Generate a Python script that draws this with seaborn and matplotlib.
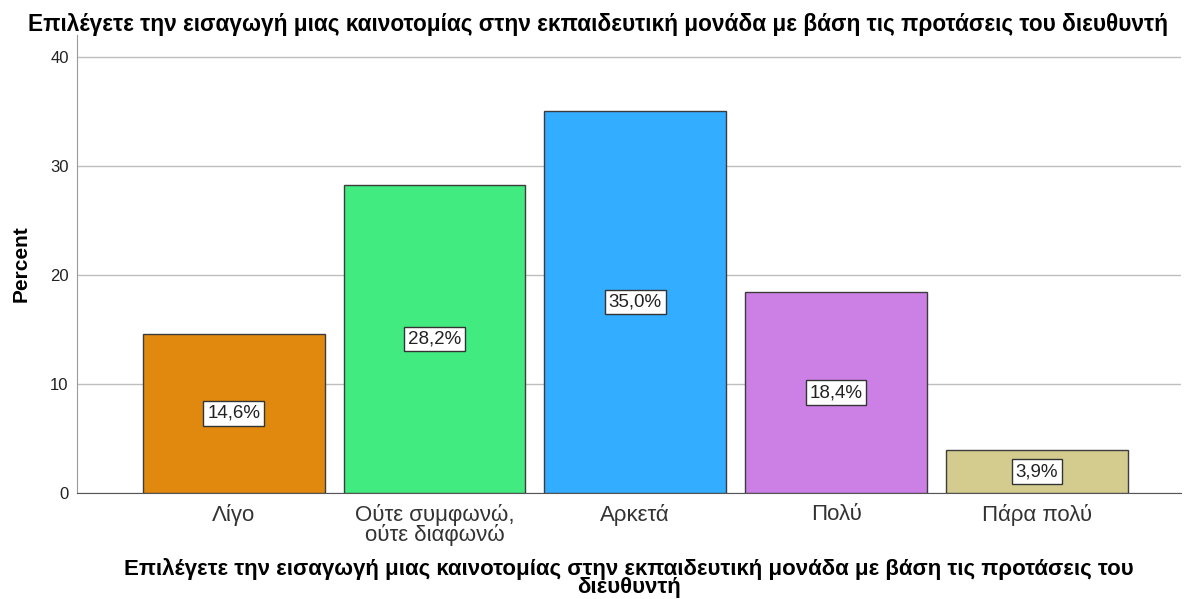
import seaborn as sns
import matplotlib.pyplot as plt
import pandas as pd

# δεδομένα
categories = ["Λίγο", "Ούτε συμφωνώ,\nούτε διαφωνώ", "Αρκετά", "Πολύ", "Πάρα πολύ"]
percent = [14.6, 28.2, 35.0, 18.4, 3.9]
colors = ["#E1880E", "#41EB7F", "#33ADFF", "#CC80E6", "#D3CC8E"]
y_ticks = [0, 10, 20, 30, 40]
title = "Επιλέγετε την εισαγωγή μιας καινοτομίας στην εκπαιδευτική μονάδα με βάση τις προτάσεις του διευθυντή"
xlabel = "Επιλέγετε την εισαγωγή μιας καινοτομίας στην εκπαιδευτική μονάδα με βάση τις προτάσεις του\nδιευθυντή"

df = pd.DataFrame({"cat": categories, "pct": percent})

sns.set_style("white")
plt.rcParams['font.family'] = ['Liberation Sans', 'DejaVu Sans']
plt.rcParams['text.color'] = 'black'
plt.rcParams['axes.labelcolor'] = 'black'

fig, ax = plt.subplots(figsize=(11.85, 5.99), dpi=100)
fig.subplots_adjust(left=0.065, right=0.997, top=0.942, bottom=0.177)

sns.barplot(data=df, x="cat", y="pct", hue="cat", palette=colors, legend=False,
            saturation=1, width=0.905, edgecolor="#3C3C3C", linewidth=1.0, ax=ax, zorder=3)

# ετικέτες τιμών στο μέσο κάθε στήλης
for i, v in enumerate(percent):
    ax.text(i, v / 2, f"{v:.1f}%".replace(".", ","), ha="center", va="center",
            fontsize=13.5, color="#222222", zorder=5,
            bbox=dict(boxstyle="square,pad=0.2", facecolor="white", edgecolor="#333333", linewidth=1))

ax.set_ylim(0, 42)
ax.set_xlim(-0.78, 4.72)
ax.set_yticks(y_ticks)
ax.yaxis.grid(True, color="#BEBEBE", linewidth=1, zorder=0)
ax.set_axisbelow(True)

for s in ["top", "right"]:
    ax.spines[s].set_visible(False)
ax.spines["left"].set_color("#9A9A9A")
ax.spines["bottom"].set_color("#555555")

ax.tick_params(axis="y", labelsize=12, length=0, pad=6, labelcolor="#222222")
ax.tick_params(axis="x", labelsize=16, length=0, pad=8, labelcolor="#333333")
for lbl in ax.get_xticklabels():
    lbl.set_linespacing(0.85)

ax.set_ylabel("Percent", fontsize=15, fontweight="bold", labelpad=14)
ax.set_xlabel(xlabel, fontsize=16, fontweight="bold", labelpad=9, linespacing=0.82)
fig.suptitle(title, fontsize=16.3, fontweight="bold", x=0.505, y=0.978)

fig.savefig("out.png", dpi=100)
